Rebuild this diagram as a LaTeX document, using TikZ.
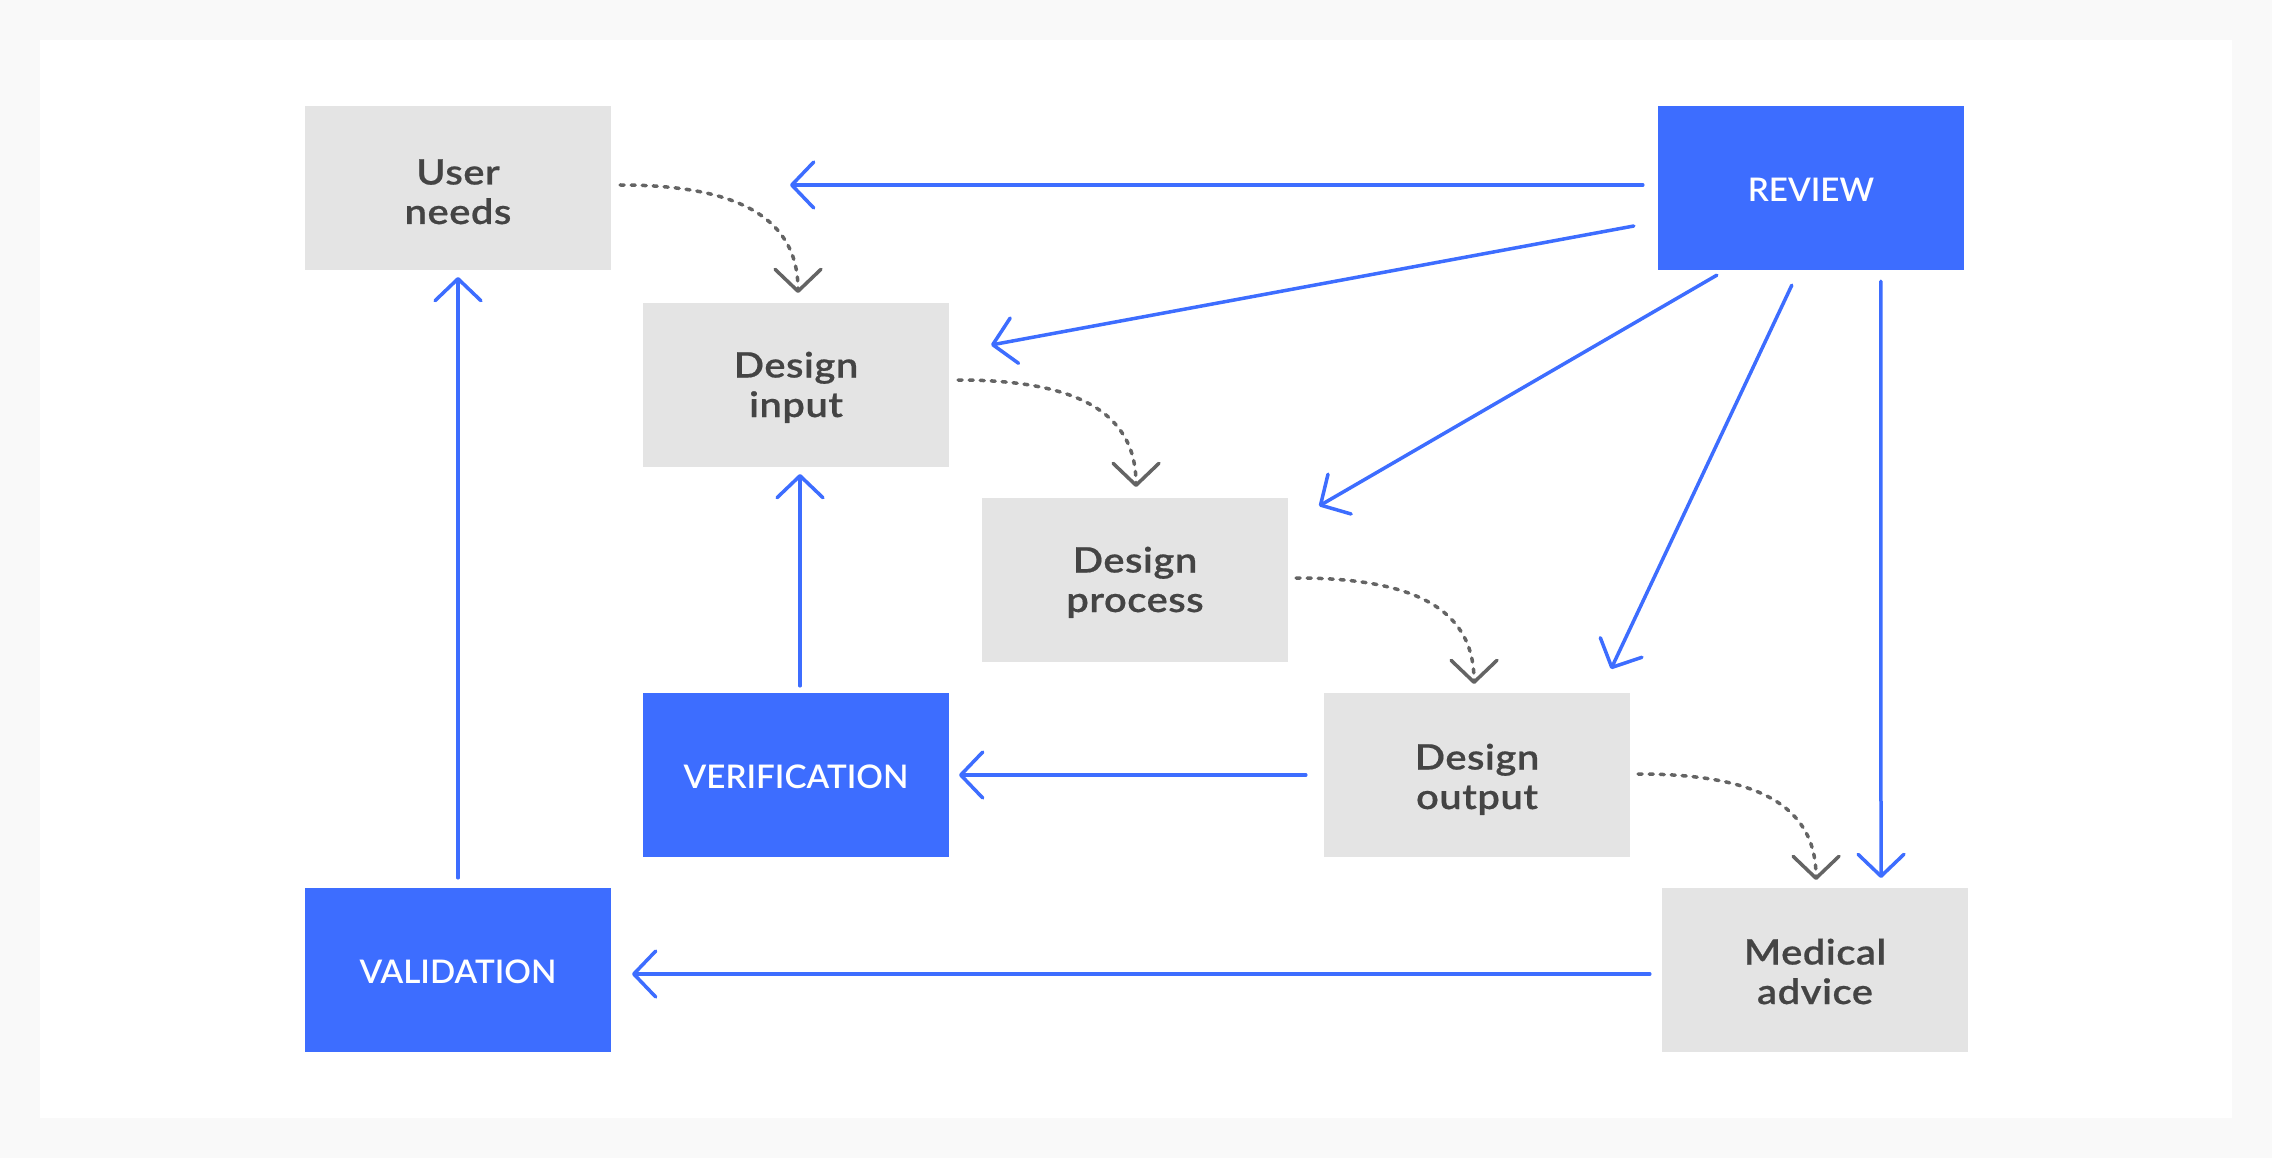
\documentclass[tikz,border=0pt]{standalone}
\usepackage{fontspec}
\setmainfont{Lato}
\newfontfamily\graytxt{Lato Semibold}[FakeStretch=1.14, LetterSpace=1.5, FakeBold=0.5]
\newfontfamily\bluetxt{Lato Semibold}[FakeStretch=1.02]
\usetikzlibrary{arrows.meta,calc}
\definecolor{bluec}{HTML}{3D6DFF}
\definecolor{boxg}{HTML}{E4E4E4}
\definecolor{txtg}{HTML}{444444}
\definecolor{dashg}{HTML}{646464}
\definecolor{bgout}{HTML}{F9F9F9}
\begin{document}
\begin{tikzpicture}[x=1pt,y=-1pt,
  gbox/.style={fill=boxg, minimum width=306pt, minimum height=164pt, inner sep=0pt, align=center, text=txtg,
    text height=68pt, text depth=0pt, font=\fontsize{35}{39.5}\selectfont\graytxt},
  bbox/.style={fill=bluec, minimum width=306pt, minimum height=164pt, inner sep=0pt, align=center, text=white,
    text height=27pt, text depth=0pt, font=\fontsize{32.5}{36}\selectfont\bluetxt},
  barrow/.style={draw=bluec, line width=3.5pt, line cap=round, -{Straight Barb[length=22pt,width=46pt,round]}},
  flow/.style={draw=dashg, line width=3.5pt, line cap=round, dash pattern=on 4pt off 7pt, -{Straight Barb[length=22pt,width=46pt,round]}}]
\useasboundingbox (0,0) rectangle (2272,1158);
\fill[bgout] (0,0) rectangle (2272,1158);
\fill[white] (40,40) rectangle (2232,1118);

\node[gbox, text height=72pt] (un) at (458,188) {User\\needs};
\node[bbox] (rev) at (1811,188) {REVIEW};
\node[gbox, text height=64pt] (di) at (796,385) {Design\\input};
\node[gbox, text height=64pt] (dp) at (1135,580) {Design\\process};
\node[bbox] (ver) at (796,775) {VERIFICATION};
\node[gbox] (dout) at (1477,775) {Design\\output};
\node[bbox] (val) at (458,970) {VALIDATION};
\node[gbox] (ma) at (1815,970) {Medical\\advice};

% free ends of the blue connectors
\coordinate (e1) at (790,185);
\coordinate (e2) at (991,345);
\coordinate (e3) at (1319,506);
\coordinate (e4) at (1611,669);
\coordinate (e5) at (1881,878);
\coordinate (e6) at (959,775);
\coordinate (e7) at (632,974);
\coordinate (e8) at (800,474);
\coordinate (e9) at (458,277);

\draw[barrow] ($(rev.west)+(-15,-3)$) -- (e1);
\draw[barrow] ($(rev.west)+(-24,38)$) -- (e2);
\draw[barrow] ($(rev.south west)+(59,5)$) -- (e3);
\draw[barrow] ($(rev.south west)+(134,15)$) -- (e4);
\draw[barrow] ($(rev.south west)+(223,11)$) -- (e5);
\draw[barrow] ($(dout.west)+(-18,0)$) -- (e6);
\draw[barrow] ($(ma.west)+(-12,4)$) -- (e7);
\draw[barrow] ($(ver.north)+(4,-7)$) -- (e8);
\draw[barrow] ($(val.north)+(0,-10)$) -- (e9);

% dashed flow connectors
\coordinate (f1) at (798,293);
\coordinate (f2) at (1136,487);
\coordinate (f3) at (1474,684);
\coordinate (f4) at (1816,880);
\draw[flow] ($(un.east)+(9,-3)$) .. controls +(107,0) and ($(f1)+(0,-81)$) .. (f1);
\draw[flow] ($(di.east)+(9,-5)$) .. controls +(107,0) and ($(f2)+(0,-81)$) .. (f2);
\draw[flow] ($(dp.east)+(8,-2)$) .. controls +(107,0) and ($(f3)+(0,-81)$) .. (f3);
\draw[flow] ($(dout.east)+(8,-1)$) .. controls +(107,0) and ($(f4)+(0,-81)$) .. (f4);
\end{tikzpicture}
\end{document}
